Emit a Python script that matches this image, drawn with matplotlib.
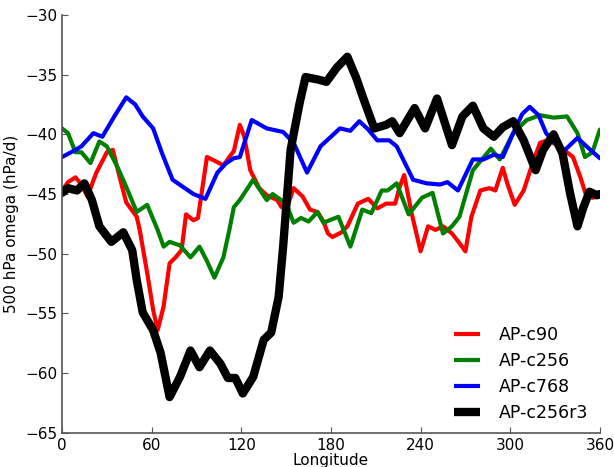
import matplotlib
matplotlib.use("Agg")
import matplotlib.pyplot as plt

# AP-c90 (red)
lon_c90 = [0, 4, 9, 13, 17, 23, 30, 34, 39, 43, 50, 52, 57, 61, 64, 68, 72, 76, 80,
           83, 88, 91, 97, 102, 108, 112, 115, 119, 122, 126, 132, 137, 144, 147, 151,
           155, 161, 166, 171, 175, 178, 181, 187, 191, 198, 205, 211, 217, 223, 226,
           229, 234, 240, 245, 250, 255, 261, 266, 270, 274, 280, 286, 290, 295, 298,
           303, 309, 315, 320, 325, 332, 338, 342, 347, 351, 355, 360]
om_c90 = [-44.7, -44.0, -43.6, -44.2, -45.2, -43.2, -41.5, -41.3, -43.8, -45.7, -46.9,
          -48.0, -51.6, -54.7, -56.4, -54.4, -50.8, -50.3, -49.7, -46.7, -47.2, -47.0,
          -41.9, -42.2, -42.6, -41.9, -41.4, -39.2, -40.2, -43.0, -44.5, -45.1, -45.5,
          -46.1, -46.0, -44.5, -45.2, -46.3, -46.5, -47.3, -48.3, -48.6, -48.2, -47.7,
          -45.8, -45.4, -46.2, -45.8, -45.8, -44.4, -43.4, -46.6, -49.8, -47.7, -48.0,
          -47.7, -48.3, -49.1, -49.8, -46.9, -44.7, -44.5, -44.7, -42.8, -44.1, -45.9,
          -44.7, -42.4, -40.7, -40.5, -40.9, -41.5, -41.9, -43.6, -45.2, -45.3, -45.2]

# AP-c256 (green)
lon_c256 = [0, 4, 9, 13, 19, 25, 30, 37, 43, 50, 57, 64, 68, 72, 79, 86, 92, 97, 102,
            108, 112, 115, 119, 128, 137, 141, 150, 155, 160, 165, 171, 175, 185, 193,
            201, 207, 214, 218, 224, 232, 241, 248, 255, 261, 266, 275, 287, 293, 302,
            311, 320, 329, 338, 345, 350, 355, 360]
om_c256 = [-39.5, -39.9, -41.5, -41.5, -42.4, -40.6, -41.0, -42.7, -44.4, -46.5, -45.9,
           -48.0, -49.4, -49.0, -49.3, -50.3, -49.4, -50.6, -52.0, -50.3, -48.0, -46.1,
           -45.5, -43.8, -45.5, -45.0, -45.8, -47.4, -47.0, -47.3, -46.5, -47.4, -46.9,
           -49.4, -46.3, -46.6, -44.7, -44.7, -44.1, -46.7, -45.3, -44.9, -48.3, -47.7,
           -46.9, -43.0, -41.2, -42.1, -39.9, -38.8, -38.4, -38.6, -38.5, -39.9, -41.9,
           -41.5, -39.6]

# AP-c768 (blue)
lon_c768 = [0, 9, 13, 21, 27, 35, 43, 49, 54, 61, 67, 74, 81, 88, 96, 104, 110, 115,
            119, 127, 137, 148, 155, 164, 173, 180, 186, 193, 199, 205, 211, 219, 224,
            235, 244, 253, 258, 265, 275, 282, 289, 295, 302, 308, 313, 319, 324, 335,
            345, 351, 360]
om_c768 = [-41.9, -41.3, -41.0, -39.9, -40.2, -38.5, -36.9, -37.5, -38.5, -39.5, -41.6,
           -43.8, -44.4, -45.0, -45.4, -43.2, -42.4, -42.0, -41.9, -38.8, -39.5, -39.8,
           -40.7, -43.2, -41.0, -40.2, -39.5, -39.7, -38.9, -39.6, -40.5, -40.5, -41.0,
           -43.8, -44.1, -44.2, -44.0, -44.7, -42.1, -42.1, -41.7, -41.9, -39.9, -38.3,
           -37.7, -38.4, -39.9, -41.5, -40.3, -41.0, -42.0]

# AP-c256r3 (black)
lon_c256r3 = [0, 4, 10, 15, 20, 25, 33, 41, 47, 50, 54, 61, 66, 72, 79, 86, 92, 99,
              106, 111, 116, 121, 128, 135, 140, 145, 148, 153, 159, 163, 167, 171, 177,
              184, 191, 197, 202, 209, 217, 221, 226, 236, 243, 251, 261, 268, 275, 282,
              289, 295, 302, 309, 317, 322, 329, 335, 340, 345, 349, 353, 358, 360]
om_c256r3 = [-44.9, -44.5, -44.7, -44.1, -45.5, -47.7, -49.0, -48.2, -49.7, -52.2, -54.9,
             -56.4, -58.3, -62.0, -60.3, -58.1, -59.5, -58.1, -59.2, -60.4, -60.4, -61.7,
             -60.3, -57.2, -56.6, -53.6, -49.4, -41.3, -37.4, -35.2, -35.3, -35.4, -35.6,
             -34.4, -33.5, -35.3, -37.1, -39.5, -39.2, -38.9, -39.9, -37.8, -39.5, -37.0,
             -40.9, -38.5, -37.6, -39.5, -40.2, -39.4, -38.9, -40.5, -43.0, -41.3, -40.0,
             -41.6, -44.9, -47.7, -46.1, -44.8, -45.1, -45.0]

fig = plt.figure(figsize=(6.14, 4.67), dpi=100)
ax = fig.add_axes([0.101, 0.073, 0.876, 0.895])

estilo = dict(solid_joinstyle='round', solid_capstyle='round')
ax.plot(lon_c90, om_c90, color='red', lw=3, label='AP-c90', **estilo)
ax.plot(lon_c256, om_c256, color='green', lw=3, label='AP-c256', **estilo)
ax.plot(lon_c768, om_c768, color='blue', lw=3, label='AP-c768', **estilo)
ax.plot(lon_c256r3, om_c256r3, color='black', lw=6, label='AP-c256r3', **estilo)

ax.set_xlim(0, 360)
ax.set_ylim(-65, -30)
ax.set_xticks(range(0, 361, 60))
ax.set_yticks(range(-65, -29, 5))
ax.tick_params(direction='in', length=4, labelsize=11, color='#555555')
ax.set_xlabel('Longitude', fontsize=11, labelpad=0)
ax.set_ylabel('500 hPa omega (hPa/d)', fontsize=11)

for s in ['top', 'right']:
    ax.spines[s].set_visible(False)
for s in ['left', 'bottom']:
    ax.spines[s].set_color('#555555')
    ax.spines[s].set_linewidth(1.2)

leg = ax.legend(loc='lower right', frameon=False, fontsize=12.5, handlelength=1.5,
                labelspacing=0.45, handletextpad=1.1, borderaxespad=0.25)
for h in leg.get_lines():
    h.set_solid_capstyle('butt')

fig.savefig('out.png', dpi=100)
